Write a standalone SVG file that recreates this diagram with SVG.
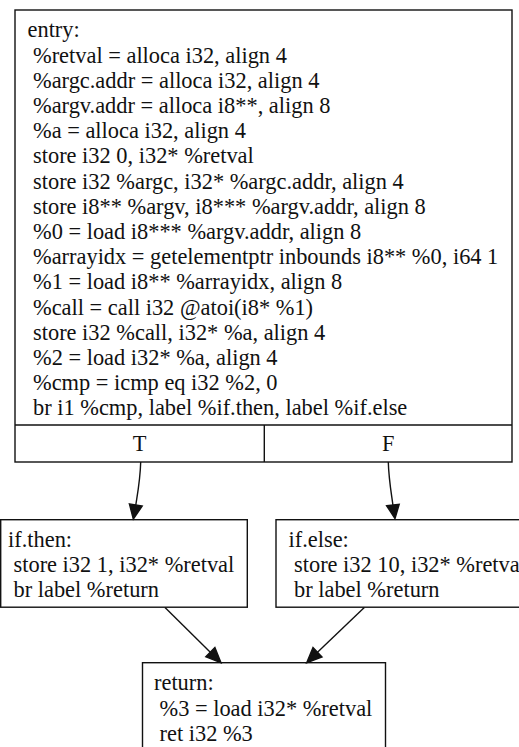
<svg xmlns="http://www.w3.org/2000/svg" width="519" height="747" viewBox="0 0 519 747">
<style>
.box{fill:#fff;stroke:#111;stroke-width:1.4}
text{font-family:"Liberation Serif","Times New Roman",serif;font-size:22.4px;fill:#111}
.e{fill:none;stroke:#111;stroke-width:1.4}
.ah{fill:#111;stroke:#111;stroke-width:1.4;stroke-linejoin:miter}
</style>
<rect width="519" height="747" fill="#fff"/>
<g id="entry">
<rect class="box" x="15" y="10" width="497" height="452"/>
<line class="box" x1="15" y1="425" x2="512" y2="425"/>
<line class="box" x1="264.3" y1="425" x2="264.3" y2="462"/>
<text x="27.5" y="37.3">entry:</text>
<text x="33" y="62.5">%retval = alloca i32, align 4</text>
<text x="33" y="87.7">%argc.addr = alloca i32, align 4</text>
<text x="33" y="112.9">%argv.addr = alloca i8**, align 8</text>
<text x="33" y="138.1">%a = alloca i32, align 4</text>
<text x="33" y="163.3">store i32 0, i32* %retval</text>
<text x="33" y="188.5">store i32 %argc, i32* %argc.addr, align 4</text>
<text x="33" y="213.7">store i8** %argv, i8*** %argv.addr, align 8</text>
<text x="33" y="238.9">%0 = load i8*** %argv.addr, align 8</text>
<text x="33" y="264.1">%arrayidx = getelementptr inbounds i8** %0, i64 1</text>
<text x="33" y="289.3">%1 = load i8** %arrayidx, align 8</text>
<text x="33" y="314.5">%call = call i32 @atoi(i8* %1)</text>
<text x="33" y="339.7">store i32 %call, i32* %a, align 4</text>
<text x="33" y="364.9">%2 = load i32* %a, align 4</text>
<text x="33" y="390.1">%cmp = icmp eq i32 %2, 0</text>
<text x="33" y="415.3">br i1 %cmp, label %if.then, label %if.else</text>
<text x="139.6" y="451" text-anchor="middle">T</text>
<text x="388.2" y="451" text-anchor="middle">F</text>
</g>
<g id="if.then">
<rect class="box" x="0.7" y="519.7" width="246.6" height="87.5"/>
<text x="8" y="546.7">if.then:</text>
<text x="13.5" y="571.9">store i32 1, i32* %retval</text>
<text x="13.5" y="597.1">br label %return</text>
</g>
<g id="if.else">
<rect class="box" x="276" y="519.7" width="262" height="87.5"/>
<text x="288.5" y="546.7">if.else:</text>
<text x="294" y="571.9">store i32 10, i32* %retval</text>
<text x="294" y="597.1">br label %return</text>
</g>
<g id="return">
<rect class="box" x="142.5" y="662.7" width="243" height="90"/>
<text x="154" y="690.3">return:</text>
<text x="159.5" y="715.5">%3 = load i32* %retval</text>
<text x="159.5" y="740.7">ret i32 %3</text>
</g>
<g id="connectors">
<path class="e" d="M140.7,462 C140.2,480 137.5,494 135.8,505"/>
<polygon class="ah" points="129.4,503.9 142.2,506.1 133.3,519"/>
<path class="e" d="M388.3,462 C388.8,480 391.5,494 392.9,505"/>
<polygon class="ah" points="386.6,505.7 399.2,504.3 395,518.6"/>
<path class="e" d="M165,607.5 L210.3,652.2"/>
<polygon class="ah" points="205.8,656.8 214.9,647.6 221,662.7"/>
<path class="e" d="M364.3,607.5 L317.5,652.3"/>
<polygon class="ah" points="322,657 313,647.6 306.7,662.7"/>
</g>
</svg>
